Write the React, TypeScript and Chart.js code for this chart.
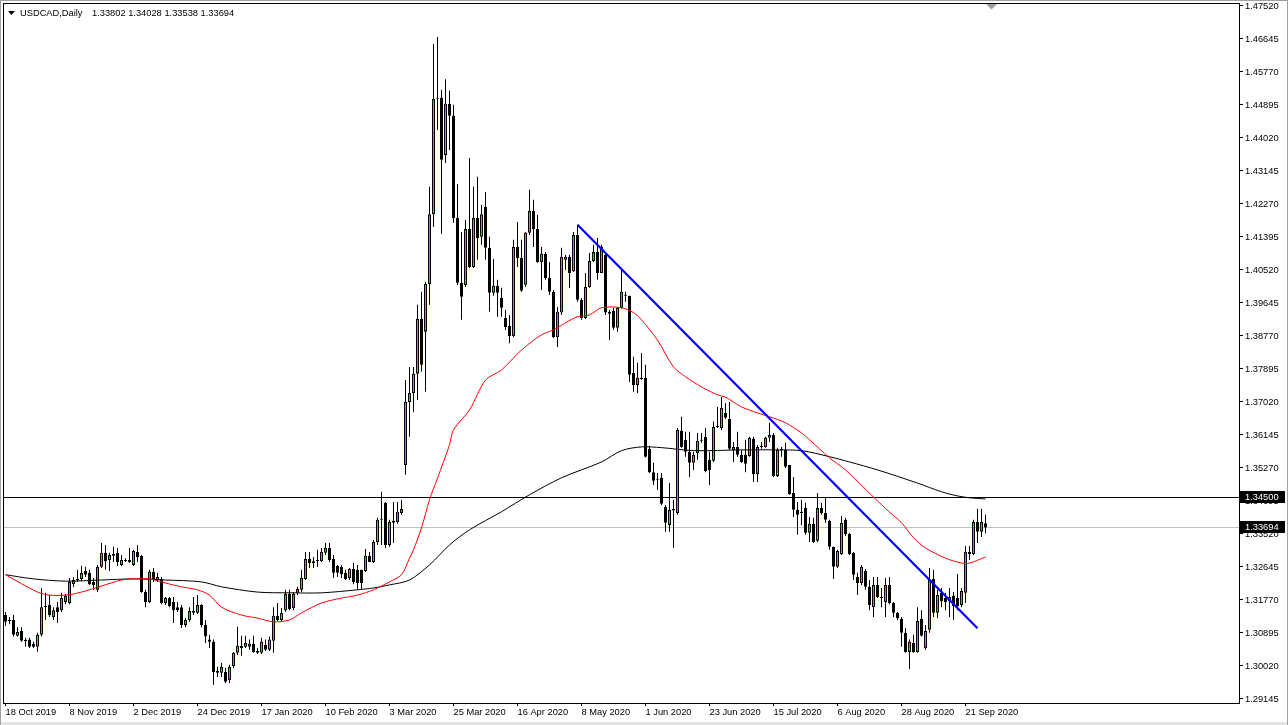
import React, { useEffect, useRef } from 'react';
import { Chart, registerables } from 'chart.js';

Chart.register(...registerables);

const OPEN = [
  1.3137, 1.3124, 1.3124, 1.3082, 1.3095, 1.3070, 1.3072, 1.3061, 1.3053, 1.3085,
  1.3158, 1.3164, 1.3132, 1.3158, 1.3150, 1.3172, 1.3169, 1.3219, 1.3233, 1.3233,
  1.3254, 1.3249, 1.3225, 1.3204, 1.3265, 1.3302, 1.3283, 1.3299, 1.3302, 1.3270,
  1.3283, 1.3278, 1.3270, 1.3304, 1.3294, 1.3198, 1.3172, 1.3252, 1.3230, 1.3233,
  1.3169, 1.3182, 1.3172, 1.3158, 1.3158, 1.3111, 1.3124, 1.3143, 1.3143, 1.3164,
  1.3111, 1.3072, 1.3066, 1.2989, 1.2984, 1.2986, 1.2965, 1.3002, 1.3037, 1.3050,
  1.3053, 1.3053, 1.3061, 1.3042, 1.3037, 1.3058, 1.3045, 1.3069, 1.3135, 1.3124,
  1.3150, 1.3193, 1.3156, 1.3196, 1.3204, 1.3233, 1.3286, 1.3275, 1.3280, 1.3280,
  1.3302, 1.3315, 1.3286, 1.3267, 1.3265, 1.3249, 1.3235, 1.3259, 1.3257, 1.3257,
  1.3254, 1.3294, 1.3278, 1.3331, 1.3390, 1.3435, 1.3323, 1.3382, 1.3384, 1.3408,
  1.3535, 1.3702, 1.3726, 1.3777, 1.3923, 1.3888, 1.4015, 1.4200, 1.4509, 1.4509,
  1.4357, 1.4493, 1.4461, 1.4190, 1.4018, 1.4012, 1.4161, 1.4060, 1.4190, 1.4140,
  1.4219, 1.4111, 1.3992, 1.4010, 1.3978, 1.3925, 1.3904, 1.3877, 1.4113, 1.4084,
  1.4013, 1.4151, 1.4209, 1.4161, 1.4073, 1.4095, 1.4031, 1.3994, 1.3874, 1.3939,
  1.4079, 1.4087, 1.4049, 1.4145, 1.3973, 1.3925, 1.4007, 1.4076, 1.4100, 1.4044,
  1.4092, 1.3941, 1.3944, 1.3899, 1.3952, 1.3986, 1.3984, 1.3779, 1.3747, 1.3766,
  1.3766, 1.3578, 1.3516, 1.3498, 1.3501, 1.3424, 1.3376, 1.3418, 1.3408, 1.3626,
  1.3602, 1.3570, 1.3541, 1.3567, 1.3602, 1.3610, 1.3549, 1.3546, 1.3636, 1.3633,
  1.3673, 1.3657, 1.3575, 1.3583, 1.3562, 1.3562, 1.3559, 1.3604, 1.3511, 1.3586,
  1.3583, 1.3607, 1.3615, 1.3506, 1.3578, 1.3575, 1.3535, 1.3461, 1.3416, 1.3411,
  1.3421, 1.3355, 1.3379, 1.3334, 1.3421, 1.3408, 1.3387, 1.3318, 1.3265, 1.3299,
  1.3390, 1.3352, 1.3302, 1.3238, 1.3222, 1.3254, 1.3212, 1.3158, 1.3217, 1.3185,
  1.3172, 1.3217, 1.3169, 1.3143, 1.3127, 1.3090, 1.3039, 1.3063, 1.3039, 1.3127,
  1.3050, 1.3098, 1.3233, 1.3143, 1.3196, 1.3182, 1.3174, 1.3188, 1.3182, 1.3164,
  1.3196, 1.3304, 1.3299, 1.3384, 1.3358, 1.33802,
];

const HIGH = [
  1.3145, 1.3132, 1.3137, 1.3105, 1.3105, 1.3077, 1.3077, 1.3066, 1.3090, 1.3209,
  1.3196, 1.3190, 1.3158, 1.3172, 1.3196, 1.3193, 1.3235, 1.3238, 1.3257, 1.3268,
  1.3265, 1.3257, 1.3235, 1.3270, 1.3328, 1.3323, 1.3302, 1.3318, 1.3315, 1.3296,
  1.3288, 1.3315, 1.3310, 1.3323, 1.3296, 1.3204, 1.3257, 1.3262, 1.3249, 1.3238,
  1.3185, 1.3185, 1.3185, 1.3172, 1.3164, 1.3129, 1.3158, 1.3185, 1.3190, 1.3166,
  1.3124, 1.3085, 1.3072, 1.3000, 1.3010, 1.2997, 1.3005, 1.3039, 1.3106, 1.3082,
  1.3082, 1.3072, 1.3082, 1.3050, 1.3077, 1.3072, 1.3080, 1.3158, 1.3169, 1.3156,
  1.3204, 1.3204, 1.3198, 1.3212, 1.3257, 1.3304, 1.3304, 1.3291, 1.3310, 1.3315,
  1.3328, 1.3328, 1.3296, 1.3270, 1.3270, 1.3257, 1.3262, 1.3275, 1.3270, 1.3257,
  1.3312, 1.3304, 1.3336, 1.3395, 1.3464, 1.3437, 1.3390, 1.3437, 1.3437, 1.3443,
  1.3760, 1.3795, 1.3795, 1.3960, 1.3994, 1.4020, 1.4273, 1.4652, 1.4670, 1.4530,
  1.4558, 1.4527, 1.4490, 1.4280, 1.4153, 1.4185, 1.4349, 1.4273, 1.4299, 1.4225,
  1.4259, 1.4140, 1.4081, 1.4026, 1.4005, 1.3946, 1.3933, 1.4132, 1.4179, 1.4132,
  1.4153, 1.4265, 1.4238, 1.4198, 1.4113, 1.4100, 1.4073, 1.3999, 1.3954, 1.4111,
  1.4092, 1.4092, 1.4153, 1.4172, 1.3978, 1.4044, 1.4097, 1.4119, 1.4137, 1.4119,
  1.4100, 1.3946, 1.3952, 1.3954, 1.4052, 1.3994, 1.3984, 1.3822, 1.3806, 1.3832,
  1.3801, 1.3586, 1.3541, 1.3514, 1.3514, 1.3429, 1.3487, 1.3443, 1.3633, 1.3663,
  1.3623, 1.3623, 1.3570, 1.3620, 1.3620, 1.3634, 1.3570, 1.3650, 1.3689, 1.3715,
  1.3699, 1.3702, 1.3596, 1.3623, 1.3575, 1.3602, 1.3610, 1.3610, 1.3588, 1.3596,
  1.3610, 1.3647, 1.3620, 1.3581, 1.3583, 1.3594, 1.3535, 1.3503, 1.3437, 1.3443,
  1.3435, 1.3397, 1.3395, 1.3461, 1.3435, 1.3450, 1.3390, 1.3318, 1.3310, 1.3400,
  1.3395, 1.3355, 1.3304, 1.3249, 1.3270, 1.3259, 1.3230, 1.3238, 1.3238, 1.3209,
  1.3235, 1.3238, 1.3172, 1.3145, 1.3132, 1.3103, 1.3072, 1.3085, 1.3158, 1.3150,
  1.3111, 1.3262, 1.3257, 1.3204, 1.3209, 1.3196, 1.3209, 1.3198, 1.3246, 1.3209,
  1.3320, 1.3320, 1.3390, 1.3419, 1.3419, 1.34028,
];

const LOW = [
  1.3108, 1.3113, 1.3080, 1.3080, 1.3066, 1.3053, 1.3050, 1.3050, 1.3040, 1.3080,
  1.3124, 1.3132, 1.3124, 1.3116, 1.3145, 1.3166, 1.3166, 1.3211, 1.3225, 1.3227,
  1.3238, 1.3217, 1.3204, 1.3198, 1.3262, 1.3257, 1.3254, 1.3278, 1.3267, 1.3267,
  1.3278, 1.3275, 1.3267, 1.3278, 1.3196, 1.3158, 1.3169, 1.3225, 1.3225, 1.3166,
  1.3164, 1.3158, 1.3116, 1.3145, 1.3103, 1.3105, 1.3119, 1.3137, 1.3140, 1.3105,
  1.3063, 1.3050, 1.2952, 1.2973, 1.2973, 1.2957, 1.2957, 1.2997, 1.3031, 1.3029,
  1.3050, 1.3045, 1.3037, 1.3034, 1.3034, 1.3042, 1.3042, 1.3037, 1.3121, 1.3119,
  1.3145, 1.3150, 1.3150, 1.3190, 1.3198, 1.3230, 1.3262, 1.3262, 1.3265, 1.3278,
  1.3296, 1.3278, 1.3235, 1.3238, 1.3235, 1.3230, 1.3230, 1.3219, 1.3204, 1.3204,
  1.3251, 1.3278, 1.3275, 1.3323, 1.3323, 1.3315, 1.3318, 1.3328, 1.3379, 1.3403,
  1.3509, 1.3610, 1.3675, 1.3707, 1.3782, 1.3729, 1.3960, 1.4166, 1.4423, 1.4148,
  1.4336, 1.4370, 1.4177, 1.4012, 1.3920, 1.4007, 1.4057, 1.4057, 1.4079, 1.4119,
  1.4079, 1.3941, 1.3984, 1.3928, 1.3928, 1.3893, 1.3858, 1.3874, 1.4060, 1.3994,
  1.4007, 1.4145, 1.4113, 1.4071, 1.3999, 1.4026, 1.3986, 1.3872, 1.3848, 1.3933,
  1.4052, 1.4004, 1.4047, 1.3968, 1.3920, 1.3922, 1.4005, 1.4073, 1.4026, 1.4044,
  1.3933, 1.3866, 1.3893, 1.3888, 1.3949, 1.3968, 1.3755, 1.3729, 1.3726, 1.3761,
  1.3555, 1.3514, 1.3482, 1.3469, 1.3429, 1.3358, 1.3358, 1.3315, 1.3403, 1.3581,
  1.3557, 1.3503, 1.3522, 1.3549, 1.3594, 1.3516, 1.3482, 1.3543, 1.3633, 1.3628,
  1.3657, 1.3575, 1.3543, 1.3557, 1.3541, 1.3516, 1.3557, 1.3490, 1.3490, 1.3578,
  1.3581, 1.3596, 1.3503, 1.3503, 1.3557, 1.3527, 1.3456, 1.3397, 1.3350, 1.3376,
  1.3350, 1.3331, 1.3328, 1.3331, 1.3403, 1.3382, 1.3310, 1.3233, 1.3262, 1.3296,
  1.3347, 1.3296, 1.3230, 1.3190, 1.3217, 1.3204, 1.3150, 1.3132, 1.3182, 1.3158,
  1.3132, 1.3166, 1.3132, 1.3124, 1.3053, 1.3037, 1.2994, 1.3037, 1.3037, 1.3080,
  1.3045, 1.3090, 1.3132, 1.3129, 1.3158, 1.3150, 1.3132, 1.3124, 1.3150, 1.3158,
  1.3169, 1.3283, 1.3296, 1.3328, 1.3344, 1.33538,
];

const CLOSE = [
  1.3119, 1.3121, 1.3085, 1.3092, 1.3069, 1.3068, 1.3053, 1.3053, 1.3085, 1.3158,
  1.3161, 1.3137, 1.3150, 1.3145, 1.3182, 1.3188, 1.3225, 1.3230, 1.3230, 1.3249,
  1.3244, 1.3219, 1.3217, 1.3265, 1.3302, 1.3280, 1.3296, 1.3294, 1.3278, 1.3283,
  1.3280, 1.3283, 1.3307, 1.3291, 1.3198, 1.3172, 1.3252, 1.3230, 1.3238, 1.3169,
  1.3182, 1.3161, 1.3150, 1.3150, 1.3111, 1.3124, 1.3148, 1.3148, 1.3164, 1.3111,
  1.3080, 1.3066, 1.2986, 1.2984, 1.3000, 1.2960, 1.3000, 1.3037, 1.3056, 1.3056,
  1.3063, 1.3061, 1.3039, 1.3037, 1.3066, 1.3045, 1.3072, 1.3135, 1.3124, 1.3143,
  1.3193, 1.3153, 1.3193, 1.3206, 1.3235, 1.3286, 1.3275, 1.3280, 1.3283, 1.3304,
  1.3315, 1.3283, 1.3249, 1.3249, 1.3246, 1.3233, 1.3259, 1.3225, 1.3222, 1.3222,
  1.3294, 1.3278, 1.3331, 1.3390, 1.3392, 1.3323, 1.3384, 1.3387, 1.3411, 1.3419,
  1.3702, 1.3726, 1.3777, 1.3923, 1.3801, 1.4015, 1.4200, 1.4506, 1.4506, 1.4344,
  1.4493, 1.4461, 1.4190, 1.4018, 1.3981, 1.4161, 1.4060, 1.4190, 1.4137, 1.4200,
  1.4111, 1.3992, 1.4010, 1.3992, 1.3952, 1.3901, 1.3877, 1.4113, 1.4084, 1.3997,
  1.4151, 1.4209, 1.4161, 1.4073, 1.4095, 1.4031, 1.3994, 1.3874, 1.3941, 1.4087,
  1.4087, 1.4044, 1.4145, 1.3973, 1.3925, 1.4007, 1.4076, 1.4100, 1.4044, 1.4113,
  1.3939, 1.3936, 1.3899, 1.3952, 1.3994, 1.3984, 1.3774, 1.3747, 1.3766, 1.3763,
  1.3557, 1.3516, 1.3493, 1.3496, 1.3432, 1.3382, 1.3416, 1.3414, 1.3628, 1.3583,
  1.3570, 1.3541, 1.3562, 1.3599, 1.3599, 1.3519, 1.3522, 1.3636, 1.3639, 1.3686,
  1.3660, 1.3578, 1.3583, 1.3562, 1.3543, 1.3538, 1.3607, 1.3511, 1.3583, 1.3583,
  1.3607, 1.3615, 1.3506, 1.3575, 1.3575, 1.3530, 1.3458, 1.3416, 1.3403, 1.3408,
  1.3355, 1.3379, 1.3331, 1.3421, 1.3408, 1.3390, 1.3318, 1.3265, 1.3307, 1.3382,
  1.3352, 1.3299, 1.3244, 1.3222, 1.3265, 1.3212, 1.3164, 1.3217, 1.3185, 1.3182,
  1.3217, 1.3169, 1.3143, 1.3129, 1.3090, 1.3039, 1.3066, 1.3039, 1.3121, 1.3082,
  1.3095, 1.3230, 1.3143, 1.3190, 1.3174, 1.3172, 1.3185, 1.3161, 1.3161, 1.3201,
  1.3304, 1.3299, 1.3384, 1.3358, 1.3384, 1.33694,
];

const MA50_BARS = [
  0, 8, 11, 15, 19, 24, 29, 32, 36, 40, 44, 48, 51, 54, 59, 63, 67, 71, 74, 79,
  84, 88, 92, 96, 99, 101, 102, 104, 106, 108, 111, 112, 116, 120, 124, 129, 134, 137, 140, 143,
  146, 149, 154, 157, 159, 163, 167, 170, 174, 178, 180, 184, 188, 191, 195, 199, 201, 206, 210, 217,
  221, 224, 227, 230, 235, 239, 241, 245,
];
const MA50_VALUES = [
  1.3244, 1.3198, 1.3190, 1.3190, 1.3198, 1.3214, 1.3230, 1.3233, 1.3233, 1.3222, 1.3212, 1.3204, 1.3190, 1.3158, 1.3137, 1.3129, 1.3119, 1.3124, 1.3143, 1.3169,
  1.3182, 1.3190, 1.3204, 1.3225, 1.3244, 1.3288, 1.3310, 1.3368, 1.3443, 1.3500, 1.3588, 1.3628, 1.3681, 1.3760, 1.3787, 1.3840, 1.3880, 1.3893, 1.3912, 1.3928,
  1.3933, 1.3952, 1.3952, 1.3939, 1.3920, 1.3866, 1.3795, 1.3769, 1.3742, 1.3721, 1.3715, 1.3689, 1.3673, 1.3663, 1.3647, 1.3620, 1.3602, 1.3554, 1.3522, 1.3450,
  1.3410, 1.3382, 1.3342, 1.3315, 1.3288, 1.3275, 1.3275, 1.3291,
];

const MA200_BARS = [
  0, 7, 15, 24, 32, 40, 49, 54, 63, 71, 79, 88, 92, 96, 101, 106, 111, 116, 124, 131,
  139, 149, 154, 159, 164, 172, 184, 193, 199, 206, 211, 218, 228, 234, 238, 241, 245,
];
const MA200_VALUES = [
  1.3244, 1.3233, 1.3227, 1.3230, 1.3233, 1.3230, 1.3225, 1.3212, 1.3198, 1.3196, 1.3196, 1.3204, 1.3209, 1.3217, 1.3230, 1.3270, 1.3323, 1.3363, 1.3411, 1.3456,
  1.3501, 1.3543, 1.3573, 1.3583, 1.3581, 1.3573, 1.3575, 1.3575, 1.3573, 1.3557, 1.3543, 1.3522, 1.3487, 1.3464, 1.3453, 1.3448, 1.3445,
];

const TREND_BARS = [143, 243];
const TREND_VALUES = [1.4172, 1.3102];

const HLINE_LEVEL = 1.345;
const HLINE_LABEL = '1.34500';
const BID_LEVEL = 1.33694;
const BID_LABEL = '1.33694';

const X_LABEL_BARS = [0, 16, 32, 48, 64, 80, 96, 112, 128, 144, 160, 176, 192, 208, 224, 240];
const X_LABELS = [
  '18 Oct 2019', '8 Nov 2019', '2 Dec 2019', '24 Dec 2019', '17 Jan 2020', '10 Feb 2020',
  '3 Mar 2020', '25 Mar 2020', '16 Apr 2020', '8 May 2020', '1 Jun 2020', '23 Jun 2020',
  '15 Jul 2020', '6 Aug 2020', '28 Aug 2020', '21 Sep 2020',
];

const Y_TICKS = [
  '1.29145', '1.30020', '1.30895', '1.31770', '1.32645', '1.33520', '1.34395', '1.35270',
  '1.36145', '1.37020', '1.37895', '1.38770', '1.39645', '1.40520', '1.41395', '1.42270',
  '1.43145', '1.44020', '1.44895', '1.45770', '1.46645', '1.47520',
];

const HEADER_NAME = 'USDCAD,Daily';
const HEADER_VALUES = '1.33802 1.34028 1.33538 1.33694';

const X_MIN = -0.625;
const X_MAX = 308.375;
const Y_MIN = 1.290389;
const Y_MAX = 1.475995;

const FONT_FAMILY = '"Liberation Sans", Arial, sans-serif';
const FONT_SIZE = 9.3;
const BULL = '#32cd32';
const BEAR = '#000000';

export default function App() {
  const ref = useRef<HTMLCanvasElement | null>(null);

  useEffect(() => {
    const canvas = ref.current;
    if (!canvas) return;
    const idx = OPEN.map((_, i) => i);
    const wickData = idx.map((i) => ({ x: i, y: [LOW[i], HIGH[i]] }));
    const bodyData = idx.map((i) => ({ x: i, y: [OPEN[i], CLOSE[i]] }));
    const bodyColors = idx.map((i) => (CLOSE[i] >= OPEN[i] ? BULL : BEAR));
    const font = `${FONT_SIZE}px ${FONT_FAMILY}`;

    const bgPlugin = {
      id: 'bg',
      beforeDraw(chart: any) {
        const ctx = chart.ctx;
        ctx.save();
        ctx.fillStyle = '#ffffff';
        ctx.fillRect(0, 0, chart.width, chart.height);
        ctx.restore();
      },
      beforeDatasetsDraw(chart: any) {
        const ctx = chart.ctx;
        const { left, right } = chart.chartArea;
        const y = chart.scales.y;
        ctx.save();
        ctx.lineWidth = 1;
        const yb = Math.round(y.getPixelForValue(BID_LEVEL)) + 0.5;
        ctx.strokeStyle = '#c0c0c0';
        ctx.beginPath();
        ctx.moveTo(left, yb);
        ctx.lineTo(right, yb);
        ctx.stroke();
        const yh = Math.round(y.getPixelForValue(HLINE_LEVEL)) + 0.5;
        ctx.strokeStyle = '#000000';
        ctx.beginPath();
        ctx.moveTo(left, yh);
        ctx.lineTo(right, yh);
        ctx.stroke();
        ctx.restore();
      },
      afterDraw(chart: any) {
        const ctx = chart.ctx;
        const { left, right, top, bottom } = chart.chartArea;
        const y = chart.scales.y;
        ctx.save();
        // plot frame
        ctx.strokeStyle = '#000000';
        ctx.lineWidth = 1;
        ctx.strokeRect(left + 0.5, top + 0.5, right - left, bottom - top);
        // outer window edges
        ctx.fillStyle = '#a0a0a0';
        ctx.fillRect(0, 0, chart.width, 1);
        ctx.fillRect(0, 0, 1, chart.height);
        ctx.fillRect(chart.width - 1, 0, 1, chart.height);
        ctx.fillStyle = '#e4e4e4';
        ctx.fillRect(1, chart.height - 3, chart.width - 2, 3);
        // header
        ctx.fillStyle = '#000000';
        ctx.beginPath();
        ctx.moveTo(8, 11);
        ctx.lineTo(15, 11);
        ctx.lineTo(11.5, 15);
        ctx.closePath();
        ctx.fill();
        ctx.font = font;
        ctx.textBaseline = 'alphabetic';
        ctx.textAlign = 'left';
        ctx.fillText(HEADER_NAME, 20, 16);
        ctx.fillText(HEADER_VALUES, 92, 16);
        // chart-shift marker
        ctx.fillStyle = '#a0a0a0';
        ctx.beginPath();
        ctx.moveTo(986, 4);
        ctx.lineTo(997, 4);
        ctx.lineTo(991.5, 9.5);
        ctx.closePath();
        ctx.fill();
        // price boxes
        const boxes = [
          [HLINE_LEVEL, HLINE_LABEL],
          [BID_LEVEL, BID_LABEL],
        ] as const;
        for (const [lvl, label] of boxes) {
          const py = Math.round(y.getPixelForValue(lvl));
          ctx.fillStyle = '#000000';
          ctx.fillRect(right + 1, py - 6, 45, 12);
          ctx.fillStyle = '#ffffff';
          ctx.textBaseline = 'middle';
          ctx.fillText(label, right + 6, py + 0.5);
        }
        ctx.restore();
      },
    };

    const chart = new Chart(canvas, {
      type: 'bar',
      data: {
        datasets: [
          {
            type: 'line',
            data: TREND_BARS.map((b, i) => ({ x: b, y: TREND_VALUES[i] })),
            borderColor: '#0000ff',
            borderWidth: 2.2,
            pointRadius: 0,
            fill: false,
            order: 0,
          } as any,
          {
            type: 'line',
            data: MA50_BARS.map((b, i) => ({ x: b, y: MA50_VALUES[i] })),
            borderColor: '#ff0000',
            borderWidth: 1,
            pointRadius: 0,
            fill: false,
            tension: 0.3,
            order: 1,
          } as any,
          {
            type: 'line',
            data: MA200_BARS.map((b, i) => ({ x: b, y: MA200_VALUES[i] })),
            borderColor: '#000000',
            borderWidth: 1,
            pointRadius: 0,
            fill: false,
            tension: 0.3,
            order: 1,
          } as any,
          {
            type: 'bar',
            data: bodyData,
            backgroundColor: bodyColors,
            borderColor: '#000000',
            borderWidth: 1,
            borderSkipped: false,
            barThickness: 3,
            grouped: false,
            minBarLength: 1,
            inflateAmount: 0,
            order: 2,
          } as any,
          {
            type: 'bar',
            data: wickData,
            backgroundColor: '#000000',
            borderWidth: 0,
            barThickness: 1,
            grouped: false,
            inflateAmount: 0,
            order: 3,
          } as any,
        ],
      },
      options: {
        responsive: false,
        animation: false,
        devicePixelRatio: 1,
        events: [],
        layout: { padding: { left: 3, top: 3, right: 0, bottom: 0 } },
        plugins: { legend: { display: false }, tooltip: { enabled: false } },
        scales: {
          x: {
            type: 'linear',
            min: X_MIN,
            max: X_MAX,
            offset: false,
            border: { display: false },
            grid: { drawOnChartArea: false, drawTicks: true, tickLength: 3, color: '#000000', offset: false },
            ticks: {
              align: 'start',
              autoSkip: false,
              maxRotation: 0,
              minRotation: 0,
              padding: 1,
              color: '#000000',
              font: { family: FONT_FAMILY, size: FONT_SIZE },
              callback: (value: any) => {
                const k = X_LABEL_BARS.indexOf(Number(value));
                return k >= 0 ? X_LABELS[k] : '';
              },
            },
            afterBuildTicks: (scale: any) => {
              scale.ticks = X_LABEL_BARS.map((v) => ({ value: v }));
            },
            afterFit: (scale: any) => {
              scale.height = 22;
              scale.paddingLeft = 0;
              scale.paddingRight = 0;
            },
          },
          y: {
            type: 'linear',
            position: 'right',
            min: Y_MIN,
            max: Y_MAX,
            border: { display: false },
            grid: { drawOnChartArea: false, drawTicks: true, tickLength: 4, color: '#000000' },
            ticks: {
              padding: 2,
              color: '#000000',
              font: { family: FONT_FAMILY, size: FONT_SIZE },
              callback: (_v: any, i: number) => Y_TICKS[i],
            },
            afterBuildTicks: (scale: any) => {
              scale.ticks = Y_TICKS.map((t) => ({ value: Number(t) }));
            },
            afterFit: (scale: any) => {
              scale.width = 49;
              scale.paddingTop = 0;
              scale.paddingBottom = 0;
            },
          },
        },
      } as any,
      plugins: [bgPlugin],
    });

    return () => {
      chart.destroy();
    };
  }, []);

  return (
    <div style={{ position: 'absolute', left: 0, top: 0, width: 1288, height: 725, background: '#ffffff' }}>
      <canvas ref={ref} width={1288} height={725} style={{ display: 'block' }} />
    </div>
  );
}
